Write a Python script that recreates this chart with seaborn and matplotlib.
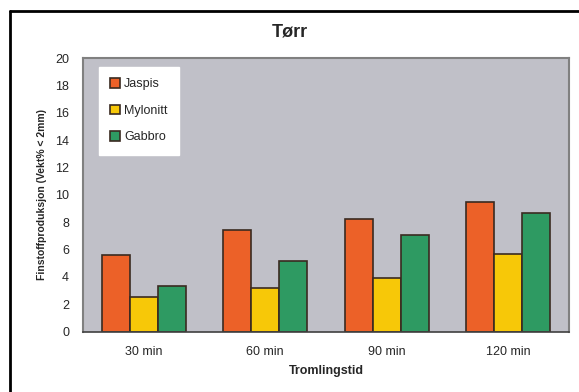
import matplotlib
matplotlib.use("Agg")
import matplotlib.pyplot as plt
import seaborn as sns
import pandas as pd
from matplotlib.lines import Line2D

categories = ["30 min", "60 min", "90 min", "120 min"]
series_names = ["Jaspis", "Mylonitt", "Gabbro"]
jaspis = [5.6, 7.4, 8.2, 9.45]
mylonitt = [2.5, 3.2, 3.95, 5.7]
gabbro = [3.35, 5.15, 7.1, 8.65]
yticks = list(range(0, 21, 2))

colors = ["#EC6128", "#F7C808", "#2E9A62"]

rows = []
for name, vals in zip(series_names, [jaspis, mylonitt, gabbro]):
    for c, v in zip(categories, vals):
        rows.append({"Tid": c, "Bergart": name, "Verdi": v})
df = pd.DataFrame(rows)

sns.set_style("white")
plt.rcParams["font.family"] = ["Liberation Sans", "DejaVu Sans"]

fig = plt.figure(figsize=(5.79, 3.92), dpi=100)
ax = fig.add_axes([0.1434, 0.1538, 0.9827 - 0.1434, 0.852 - 0.1538])
ax.set_facecolor("#C0C0C8")

sns.barplot(data=df, x="Tid", y="Verdi", hue="Bergart", order=categories,
            hue_order=series_names, palette=colors, width=0.69,
            edgecolor="#3a2a20", linewidth=1.2, saturation=1, ax=ax)

ax.set_ylim(0, 20)
ax.set_yticks(yticks)
ax.set_yticklabels([str(t) for t in yticks], fontsize=9)
ax.tick_params(axis="x", labelsize=9, length=0, pad=10)
ax.tick_params(axis="y", length=0, pad=10)
ax.set_xlabel("Tromlingstid", fontsize=9, fontweight="bold", labelpad=5)
ax.set_ylabel("Finstoffproduksjon (Vekt% < 2mm)", fontsize=7.5, fontweight="bold", labelpad=6)
for s in ["top", "right", "left"]:
    ax.spines[s].set_color("#808080")
    ax.spines[s].set_linewidth(1.5)
    ax.spines[s].set_visible(True)
ax.spines["bottom"].set_color("#404040")
ax.spines["bottom"].set_linewidth(1.2)
ax.spines["bottom"].set_visible(True)

fig.text(0.5, 0.918, "Tørr", ha="center", va="center", fontsize=13, fontweight="bold")

leg = ax.legend(loc="upper left", bbox_to_anchor=(0.02, 0.99), fontsize=9,
                frameon=True, fancybox=False, framealpha=1, handlelength=0.8,
                handleheight=0.8, handletextpad=0.3, labelspacing=1.15, borderpad=0.9)
leg.get_frame().set_facecolor("white")
leg.get_frame().set_edgecolor("white")
leg.set_title(None)

# outer border (left & top visible)
fig.add_artist(Line2D([10 / 579, 10 / 579], [1 - 11 / 392, 0], transform=fig.transFigure,
                      color="black", linewidth=2))
fig.add_artist(Line2D([10 / 579, 1], [1 - 11 / 392, 1 - 11 / 392], transform=fig.transFigure,
                      color="black", linewidth=2))

fig.savefig("out.png", dpi=100)
